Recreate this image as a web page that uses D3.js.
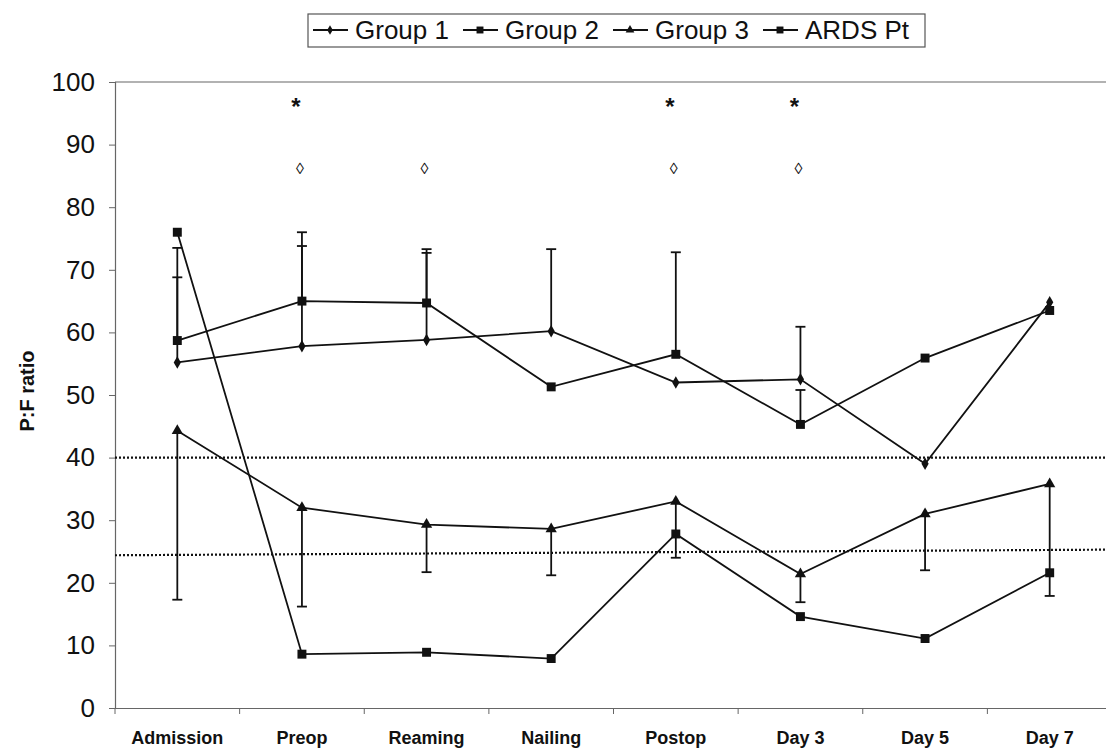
<!DOCTYPE html>
<html>
<head>
<meta charset="utf-8">
<script src="https://cdn.jsdelivr.net/npm/d3@7"></script>
<style>
  body { margin: 0; background: #fff; }
  text { font-family: Arial, "Liberation Sans", sans-serif; fill: #111; }
</style>
</head>
<body>
<div id="chart"></div>
<script>
var categories = ["Admission", "Preop", "Reaming", "Nailing", "Postop", "Day 3", "Day 5", "Day 7"];
var group1 = [55.2, 57.8, 58.8, 60.2, 52.0, 52.5, 39.0, 64.8];
var group2 = [58.7, 65.0, 64.7, 51.3, 56.5, 45.3, 55.9, 63.5];
var group3 = [44.3, 32.0, 29.3, 28.6, 33.0, 21.4, 31.0, 35.8];
var ards = [76.0, 8.6, 8.9, 7.9, 27.8, 14.6, 11.1, 21.6];
// upper error bar ends (null = none)
var group1Upper = [68.8, 73.8, 72.7, 73.3, null, 60.9, null, null];
var group2Upper = [73.5, 76.0, 73.3, null, 72.8, 50.8, null, null];
// lower error bar ends of group 3
var group3Lower = [17.3, 16.2, 21.7, 21.2, 24.0, 16.9, 22.0, 17.9];
var yTicks = [0, 10, 20, 30, 40, 50, 60, 70, 80, 90, 100];
var refLines = [[40, 40], [24.4, 25.3]];
var starAt = ["Preop", "Postop", "Day 3"];
var diamondAt = ["Preop", "Reaming", "Postop", "Day 3"];
var legendNames = ["Group 1", "Group 2", "Group 3", "ARDS Pt"];

var svg = d3.select("#chart").append("svg")
    .attr("width", 1106)
    .attr("height", 750);

var plotLeft = 115, plotRight = 1112, plotTop = 82, plotBottom = 708;

var x = d3.scaleBand().domain(categories).range([plotLeft, plotRight]);
var y = d3.scaleLinear().domain([0, 100]).range([plotBottom, plotTop]);
var cx = function(c) { return x(c) + x.bandwidth() / 2; };

// frame top line
svg.append("line")
    .attr("x1", plotLeft).attr("x2", plotRight)
    .attr("y1", plotTop).attr("y2", plotTop)
    .attr("stroke", "#666").attr("stroke-width", 1.2);

// y axis
var yAxis = svg.append("g")
    .attr("transform", "translate(" + plotLeft + ",0)")
    .call(d3.axisLeft(y).tickValues(yTicks).tickSize(6).tickPadding(14));
yAxis.select(".domain").attr("stroke", "#666").attr("stroke-width", 1.2);
yAxis.selectAll(".tick line").attr("stroke", "#666");
yAxis.selectAll("text").attr("font-size", 26).attr("fill", "#111");

// x axis
var xAxis = svg.append("g")
    .attr("transform", "translate(0," + plotBottom + ")")
    .call(d3.axisBottom(x).tickSize(0).tickPadding(23));
xAxis.select(".domain").attr("stroke", "#666").attr("stroke-width", 1.2);
xAxis.selectAll("text").attr("font-size", 18).attr("font-weight", "bold").attr("fill", "#111");
svg.append("g").selectAll("line")
    .data(categories)
    .enter().append("line")
    .attr("x1", function(d) { return x(d); })
    .attr("x2", function(d) { return x(d); })
    .attr("y1", plotBottom).attr("y2", plotBottom + 6)
    .attr("stroke", "#666");

// y title
svg.append("text")
    .attr("transform", "translate(34,391) rotate(-90)")
    .attr("text-anchor", "middle")
    .attr("font-size", 20)
    .attr("font-weight", "bold")
    .text("P:F ratio");

// dotted reference lines
svg.append("g").selectAll("line")
    .data(refLines)
    .enter().append("line")
    .attr("x1", plotLeft).attr("x2", plotRight)
    .attr("y1", function(d) { return y(d[0]); })
    .attr("y2", function(d) { return y(d[1]); })
    .attr("stroke", "#111")
    .attr("stroke-width", 2.2)
    .attr("stroke-dasharray", "2,2");

// error bars
function errorBars(means, ends) {
  var g = svg.append("g");
  categories.forEach(function(c, i) {
    if (ends[i] == null) return;
    g.append("line")
      .attr("x1", cx(c)).attr("x2", cx(c))
      .attr("y1", y(means[i])).attr("y2", y(ends[i]))
      .attr("stroke", "#111").attr("stroke-width", 1.8);
    g.append("line")
      .attr("x1", cx(c) - 5).attr("x2", cx(c) + 5)
      .attr("y1", y(ends[i])).attr("y2", y(ends[i]))
      .attr("stroke", "#111").attr("stroke-width", 1.8);
  });
}
errorBars(group1, group1Upper);
errorBars(group2, group2Upper);
errorBars(group3, group3Lower);

// lines
var line = d3.line()
    .x(function(d, i) { return cx(categories[i]); })
    .y(function(d) { return y(d); });

var series = [
  { values: group1, symbol: d3.symbolDiamond, size: 45 },
  { values: group2, symbol: d3.symbolSquare, size: 80 },
  { values: group3, symbol: d3.symbolTriangle, size: 55 },
  { values: ards, symbol: d3.symbolSquare, size: 80 }
];

series.forEach(function(s) {
  svg.append("path")
    .datum(s.values)
    .attr("d", line)
    .attr("fill", "none")
    .attr("stroke", "#111")
    .attr("stroke-width", 1.8);
  svg.append("g").selectAll("path")
    .data(s.values)
    .enter().append("path")
    .attr("d", d3.symbol().type(s.symbol).size(s.size))
    .attr("transform", function(d, i) {
      return "translate(" + cx(categories[i]) + "," + y(d) + ")";
    })
    .attr("fill", "#111");
});

// significance marks
svg.append("g").selectAll("text")
    .data(starAt)
    .enter().append("text")
    .attr("x", function(d) { return cx(d) - 6; })
    .attr("y", y(96.7) + 12)
    .attr("text-anchor", "middle")
    .attr("font-size", 24)
    .attr("font-weight", "bold")
    .text("*");

svg.append("g").selectAll("text")
    .data(diamondAt)
    .enter().append("text")
    .attr("x", function(d) { return cx(d) - 2; })
    .attr("y", y(86.3) + 6)
    .attr("text-anchor", "middle")
    .attr("font-size", 16)
    .text("\u25CA");

// legend
var legend = svg.append("g");
legend.append("rect")
    .attr("x", 308).attr("y", 14)
    .attr("width", 617).attr("height", 33)
    .attr("fill", "#fff")
    .attr("stroke", "#555")
    .attr("stroke-width", 1.2);

legendNames.forEach(function(name, i) {
  var lx = 313 + 150 * i;
  legend.append("line")
    .attr("x1", lx).attr("x2", lx + 35)
    .attr("y1", 30).attr("y2", 30)
    .attr("stroke", "#111").attr("stroke-width", 1.8);
  legend.append("path")
    .attr("d", d3.symbol().type(series[i].symbol).size(series[i].size * 0.6))
    .attr("transform", "translate(" + (lx + 17) + ",30)")
    .attr("fill", "#111");
  legend.append("text")
    .attr("x", lx + 42)
    .attr("y", 39)
    .attr("font-size", 26)
    .text(name);
});
</script>
</body>
</html>
